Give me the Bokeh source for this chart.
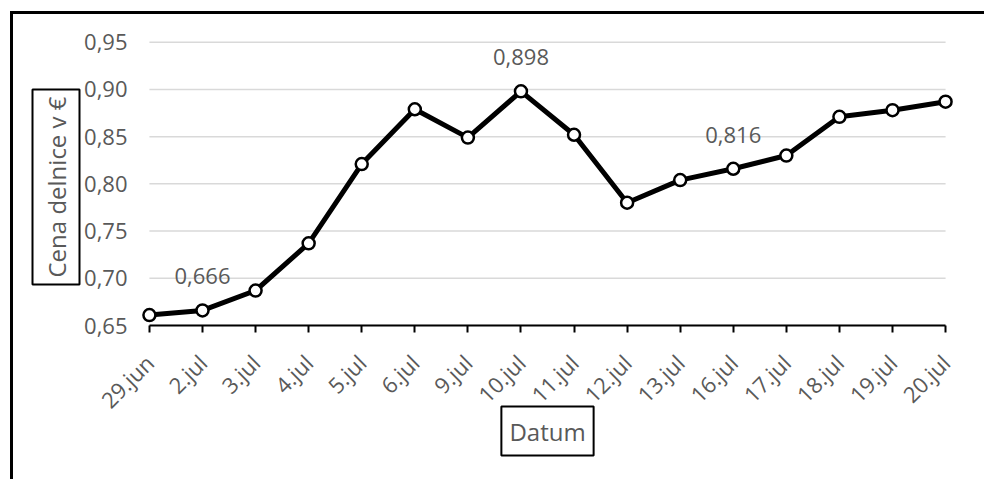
import math

from bokeh.core.properties import value
from bokeh.embed import file_html
from bokeh.models import (ColumnDataSource, CustomJSTickFormatter, FixedTicker,
                          InlineStyleSheet, Range1d, Title)
from bokeh.plotting import figure
from bokeh.resources import INLINE

# Share price per trading day
dates = ["29.jun", "2.jul", "3.jul", "4.jul", "5.jul", "6.jul", "9.jul", "10.jul",
         "11.jul", "12.jul", "13.jul", "16.jul", "17.jul", "18.jul", "19.jul", "20.jul"]
prices = [0.661, 0.666, 0.687, 0.737, 0.821, 0.879, 0.849, 0.898,
          0.852, 0.780, 0.804, 0.816, 0.830, 0.871, 0.878, 0.887]
labelled_dates = ["2.jul", "10.jul", "16.jul"]
y_ticks = [0.65, 0.70, 0.75, 0.80, 0.85, 0.90, 0.95]

FONT = "Open Sans"
TEXT_COLOR = "#595959"

xs = list(range(len(dates)))
last = len(dates) - 1

p = figure(width=984, height=479, output_backend="svg", toolbar_location=None,
           x_range=Range1d(-0.3, last + 0.3), y_range=Range1d(0.65, 0.955),
           min_border_left=133, min_border_right=23, min_border_top=37,
           min_border_bottom=154)
p.background_fill_color = "white"
p.border_fill_color = "white"
p.outline_line_color = None
p.xgrid.visible = False
p.ygrid.visible = False

# outer chart border, pinned to the page: only its left and top edges are in view
p.stylesheets = [InlineStyleSheet(css="""
:host::after {
  content: ""; position: fixed; left: 9.5px; top: 10.5px;
  width: 2000px; height: 2000px;
  border-left: 3px solid #000; border-top: 3px solid #000;
  pointer-events: none; z-index: 10;
}
""")]

# horizontal gridlines limited to the category span
p.segment(x0=[0] * len(y_ticks), x1=[last] * len(y_ticks), y0=y_ticks, y1=y_ticks,
          line_color="#d9d9d9", line_width=1.5)

# x axis: categories on tick marks
xa = p.xaxis[0]
xa.ticker = FixedTicker(ticks=xs)
xa.major_label_overrides = {i: d for i, d in enumerate(dates)}
xa.bounds = (0, last)
xa.axis_line_color = "black"
xa.axis_line_width = 2
xa.major_tick_in = 0
xa.major_tick_out = 7
xa.major_tick_line_width = 2
xa.major_tick_line_color = "black"
xa.minor_tick_line_color = None
xa.major_label_orientation = math.pi / 4
xa.major_label_standoff = 26
xa.major_label_text_font = FONT
xa.major_label_text_font_size = "22px"
xa.major_label_text_color = TEXT_COLOR

# y axis: labels only
ya = p.yaxis[0]
ya.ticker = FixedTicker(ticks=y_ticks)
ya.formatter = CustomJSTickFormatter(code="return tick.toFixed(2).replace('.', ',');")
ya.axis_line_color = None
ya.major_tick_line_color = None
ya.minor_tick_line_color = None
ya.major_tick_out = 0
ya.major_tick_in = 0
ya.major_label_standoff = 6
ya.major_label_text_font = FONT
ya.major_label_text_font_size = "22px"
ya.major_label_text_color = TEXT_COLOR

src = ColumnDataSource(data=dict(x=xs, y=prices))
p.line("x", "y", source=src, line_color="black", line_width=5, line_join="round")
p.scatter("x", "y", source=src, size=12, fill_color="white", line_color="black",
          line_width=2.5)

# value labels above selected points
lab_x = [dates.index(d) for d in labelled_dates]
lab_y = [prices[i] for i in lab_x]
lab_t = [f"{v:.3f}".replace(".", ",") for v in lab_y]
p.text(x=lab_x, y=lab_y, text=lab_t, y_offset=-34, text_align="center",
       text_baseline="middle", text_font=value(FONT), text_font_size="22px",
       text_color=TEXT_COLOR)

# boxed axis titles
p.add_layout(Title(text="Datum", align="center", vertical_align="top", standoff=-42,
                   text_font=FONT, text_font_size="24px", text_font_style="normal",
                   text_color=TEXT_COLOR, border_line_color="black",
                   border_line_width=2, background_fill_color="white",
                   padding=8), "below")
p.add_layout(Title(text="Cena delnice v €", align="left", offset=41, standoff=4,
                   text_font=FONT, text_font_size="24px", text_font_style="normal",
                   text_color=TEXT_COLOR, border_line_color="black",
                   border_line_width=2, background_fill_color="white",
                   padding=7), "left")

open("out.html", "w").write(file_html(p, INLINE))
